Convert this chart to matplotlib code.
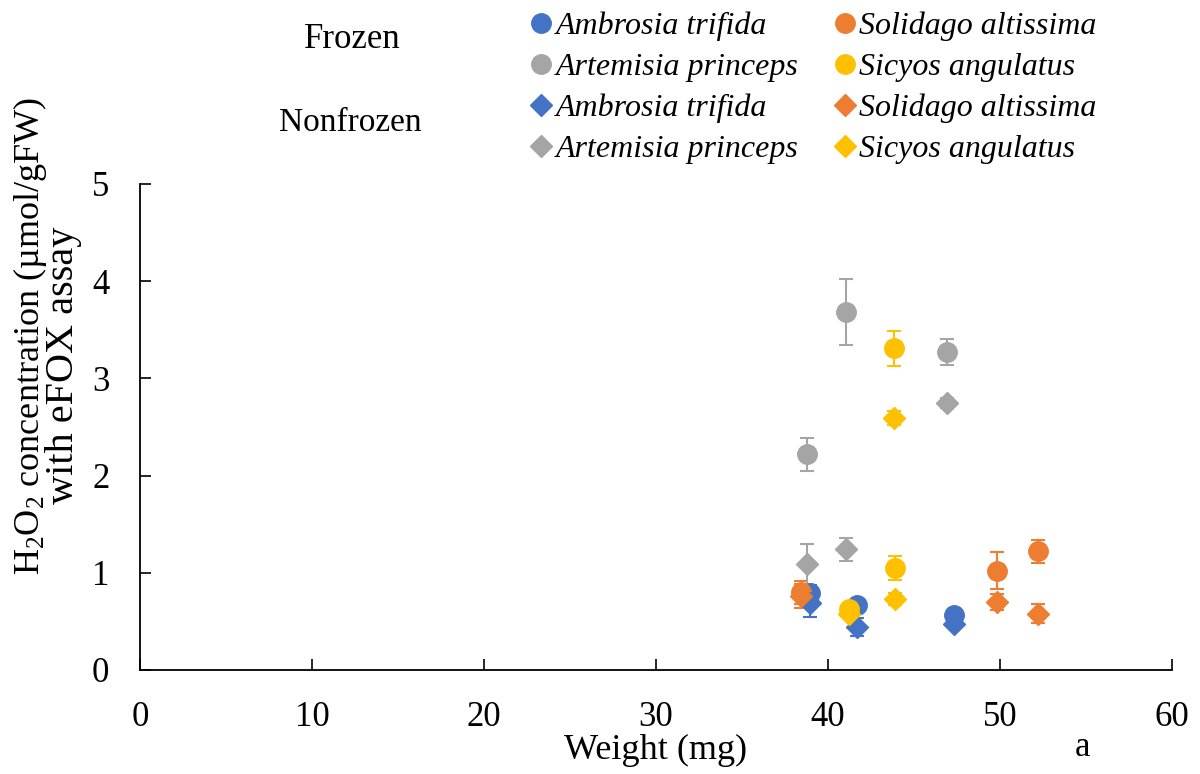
import matplotlib
matplotlib.use('Agg')
import matplotlib.pyplot as plt
from matplotlib.lines import Line2D

plt.rcParams['font.family'] = ['Liberation Serif', 'DejaVu Serif']
plt.rcParams['mathtext.fontset'] = 'custom'
plt.rcParams['mathtext.rm'] = 'Liberation Serif'
plt.rcParams['mathtext.it'] = 'Liberation Serif:italic'

species = ['Ambrosia trifida', 'Solidago altissima', 'Artemisia princeps', 'Sicyos angulatus']
colors = ['#4472C4', '#ED7D31', '#A5A5A5', '#FFC000']

# weights (mg) per species
weights = {
    'Ambrosia trifida': [38.95, 41.7, 47.3],
    'Solidago altissima': [38.4, 49.8, 52.2],
    'Artemisia princeps': [38.8, 41.05, 46.9],
    'Sicyos angulatus': [41.2, 43.85, 43.9],
}
frozen = {
    'Ambrosia trifida': [0.79, 0.67, 0.57],
    'Solidago altissima': [0.80, 1.02, 1.22],
    'Artemisia princeps': [2.22, 3.68, 3.27],
    'Sicyos angulatus': [0.63, 3.31, 1.05],
}
frozen_err = {
    'Ambrosia trifida': [0.08, 0.05, 0.04],
    'Solidago altissima': [0.12, 0.19, 0.12],
    'Artemisia princeps': [0.17, 0.34, 0.13],
    'Sicyos angulatus': [0.05, 0.18, 0.12],
}
nonfrozen = {
    'Ambrosia trifida': [0.69, 0.44, 0.47],
    'Solidago altissima': [0.76, 0.70, 0.58],
    'Artemisia princeps': [1.09, 1.24, 2.75],
    'Sicyos angulatus': [0.58, 2.59, 0.73],
}
nonfrozen_err = {
    'Ambrosia trifida': [0.14, 0.09, 0.03],
    'Solidago altissima': [0.12, 0.08, 0.10],
    'Artemisia princeps': [0.21, 0.12, 0.05],
    'Sicyos angulatus': [0.04, 0.07, 0.06],
}

fig = plt.figure(figsize=(12, 7.74), dpi=100)
ax = fig.add_axes([0.1167, 0.1344, 0.86, 0.6279])

for sp, c in zip(species, colors):
    ax.errorbar(weights[sp], frozen[sp], yerr=frozen_err[sp], fmt='o', color=c,
                markersize=14, capsize=5, elinewidth=1.5, capthick=1.5)
for sp, c in zip(species, colors):
    ax.errorbar(weights[sp], nonfrozen[sp], yerr=nonfrozen_err[sp], fmt='D', color=c,
                markersize=11, capsize=5, elinewidth=1.5, capthick=1.5)

ax.set_xlim(0, 60)
ax.set_ylim(0, 5)
ax.set_xticks(range(0, 61, 10))
ax.set_yticks(range(0, 6))
ax.tick_params(direction='in', length=8, width=1.2, labelsize=25, pad=22)
for s in ['top', 'right']:
    ax.spines[s].set_visible(False)
for s in ['left', 'bottom']:
    ax.spines[s].set_linewidth(1.3)

ax.set_xlabel('Weight (mg)', fontsize=26, labelpad=0)
fig.text(30 / 1200, 1 - 336 / 774, 'H$_2$O$_2$ concentration (µmol/gFW)',
         rotation=90, ha='center', va='center', fontsize=26)
fig.text(64 / 1200, 1 - 365 / 774, 'with eFOX assay',
         rotation=90, ha='center', va='center', fontsize=29)
fig.text(1082 / 1200, 1 - 748 / 774, 'a', ha='center', va='center', fontsize=25)

fig.text(352 / 1200, 1 - 40 / 774, 'Frozen', ha='center', va='center', fontsize=25)
fig.text(350 / 1200, 1 - 123 / 774, 'Nonfrozen', ha='center', va='center', fontsize=24)

handles, labels = [], []
col1 = [('Ambrosia trifida', 'o'), ('Artemisia princeps', 'o'),
        ('Ambrosia trifida', 'D'), ('Artemisia princeps', 'D')]
col2 = [('Solidago altissima', 'o'), ('Sicyos angulatus', 'o'),
        ('Solidago altissima', 'D'), ('Sicyos angulatus', 'D')]
for sp, m in col1 + col2:
    c = colors[species.index(sp)]
    handles.append(Line2D([], [], marker=m, color=c, linestyle='none',
                          markersize=14 if m == 'o' else 11))
    labels.append(sp)
leg = fig.legend(handles, labels, ncol=2, loc='upper left',
                 bbox_to_anchor=(514 / 1200, 1 + 4 / 774), frameon=False,
                 prop={'style': 'italic', 'size': 23}, handletextpad=0.1,
                 handlelength=0.7, columnspacing=1.1, labelspacing=0.36,
                 borderpad=0.0)

fig.savefig('out.png', dpi=100)
